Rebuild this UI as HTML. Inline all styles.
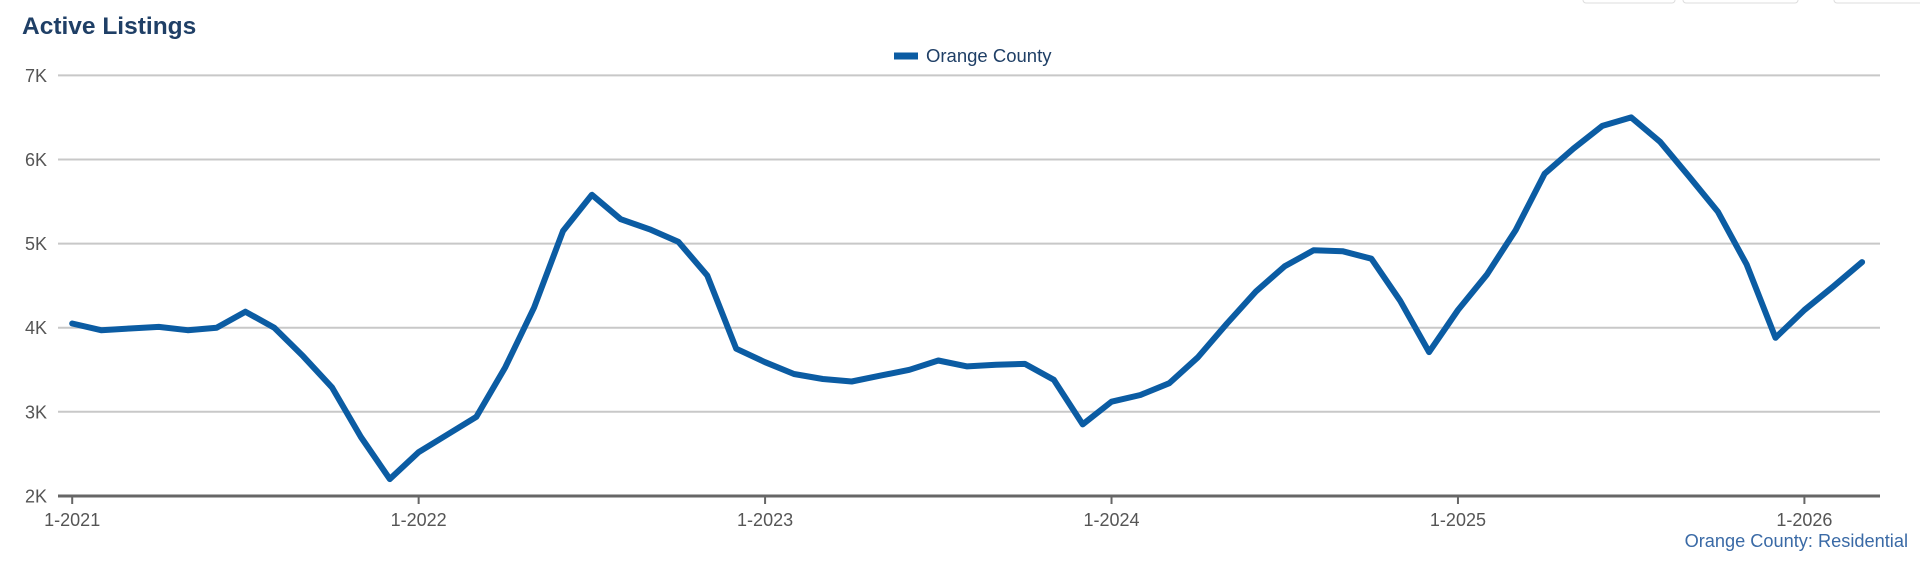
<!DOCTYPE html>
<html><head><meta charset="utf-8"><style>
html,body{margin:0;padding:0;background:#fff;}
body{width:1920px;height:560px;overflow:hidden;font-family:"Liberation Sans",Arial,sans-serif;}
</style></head><body>
<svg id="chart" width="1920" height="560" xmlns="http://www.w3.org/2000/svg" font-family="Liberation Sans, Arial, sans-serif">
<rect x="1583" y="-6" width="92" height="9" rx="3" fill="#fff" stroke="#ddd"/>
<rect x="1683" y="-6" width="115" height="9" rx="3" fill="#fff" stroke="#ddd"/>
<rect x="1834" y="-6" width="95" height="9" rx="3" fill="#fff" stroke="#ddd"/>
<text x="22" y="34" font-size="24.5" font-weight="bold" fill="#1f3f66">Active Listings</text>
<g>
<line x1="894" y1="56" x2="918" y2="56" stroke="#0b5ca3" stroke-width="7"/>
<text x="926" y="62" font-size="18.5" fill="#1f3f66">Orange County</text>
</g>
<g id="grid"></g><g id="axes"></g><g id="series"></g>
<text x="1908" y="547" font-size="18.2" fill="#3a6aa6" text-anchor="end">Orange County: Residential</text>
</svg>
<script>
const yTicks=[2000,3000,4000,5000,6000,7000];
const yTickLabels=["2K","3K","4K","5K","6K","7K"];
const xTickLabels=["1-2021","1-2022","1-2023","1-2024","1-2025","1-2026"];
const months=[];for(let y=2021;y<=2026;y++)for(let m=1;m<=12;m++){if(y===2026&&m>3)break;months.push(m+"-"+y);}
const listings=[4050,3970,3990,4010,3970,4000,4190,4000,3660,3290,2700,2200,
2520,2730,2940,3530,4240,5150,5580,5290,5170,5020,4620,3750,
3590,3450,3390,3360,3430,3500,3610,3540,3560,3570,3380,2850,
3120,3200,3340,3650,4050,4430,4730,4920,4910,4820,4320,3710,
4210,4630,5160,5830,6130,6400,6500,6210,5800,5380,4750,3880,
4210,4490,4780];
const NS="http://www.w3.org/2000/svg";
const X0=72.2,MW=28.87,PL=58,PR=1880;
const xs=i=>X0+i*MW;
const ys=v=>495.9-(v-2000)/5000*420.5;
const grid=document.getElementById('grid'),axes=document.getElementById('axes'),ser=document.getElementById('series');
function mk(tag,at,p){const e=document.createElementNS(NS,tag);for(const k in at)e.setAttribute(k,at[k]);p.appendChild(e);return e;}
yTicks.forEach((v,i)=>{
 if(i>0){const g=mk('line',{x1:PL,x2:PR,y1:ys(v),y2:ys(v),stroke:'#c8c8c8','stroke-width':2},grid);
 
 }
 const t=mk('text',{x:47,y:ys(v)+6.5,'font-size':18,fill:'#555','text-anchor':'end'},axes);t.textContent=yTickLabels[i];
 
 
});
const ax=mk('line',{x1:PL,x2:PR,y1:496,y2:496,stroke:'#666','stroke-width':3},axes);


xTickLabels.forEach((l,i)=>{
 const x=xs(i*12);
 const tk=mk('line',{x1:x,x2:x,y1:496,y2:504,stroke:'#666','stroke-width':2},axes);
 
 
 const t=mk('text',{x:x,y:526,'font-size':18,fill:'#555','text-anchor':'middle'},axes);t.textContent=l;
 
 
});
const pts=listings.map((v,i)=>xs(i).toFixed(1)+','+ys(v).toFixed(1)).join(' ');
const pl=mk('polyline',{points:pts,fill:'none',stroke:'#0b5ca3','stroke-width':6,'stroke-linejoin':'round','stroke-linecap':'round'},ser);


</script>
</body></html>
